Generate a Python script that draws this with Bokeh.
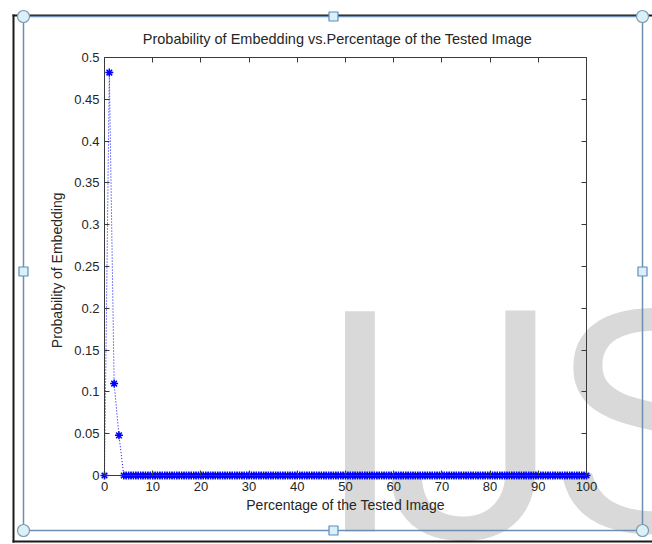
from bokeh.plotting import figure
from bokeh.models import LinearAxis, FixedTicker, Range1d
from bokeh.core.properties import value
from bokeh.embed import file_html
from bokeh.resources import INLINE

# ---- data ----
head_x = [0, 1, 2, 3]
head_y = [0.0, 0.482, 0.11, 0.048]
tail_x = [v / 2 for v in range(8, 201)]          # 4, 4.5, ..., 100
tail_y = [0.0] * len(tail_x)
x_vals = head_x + tail_x
y_vals = head_y + tail_y

x_ticks = [0, 10, 20, 30, 40, 50, 60, 70, 80, 90, 100]
x_tick_labels = ["0", "10", "20", "30", "40", "50", "60", "70", "80", "90", "100"]
y_ticks = [0, 0.05, 0.1, 0.15, 0.2, 0.25, 0.3, 0.35, 0.4, 0.45, 0.5]
y_tick_labels = ["0", "0.05", "0.1", "0.15", "0.2", "0.25", "0.3", "0.35", "0.4", "0.45", "0.5"]

title_text = "Probability  of  Embedding  vs.Percentage  of the Tested Image"
x_label = "Percentage of the Tested Image"
y_label = "Probability  of  Embedding"

# ---- layout of the page (pixels) ----
W, H = 652, 544
AX_L, AX_R, AX_T, AX_B = 104, 586, 57, 475          # axes box on the page
X0, X1, Y0, Y1 = 0, 100, 0, 0.5
sx = (AX_R - AX_L) / (X1 - X0)
sy = (AX_B - AX_T) / (Y1 - Y0)

FONT = "Liberation Sans"
TXT = "#262626"
AXC = "#3a3a3a"

p = figure(width=W, height=H, output_backend="svg", toolbar_location=None,
           x_range=Range1d(X0 - AX_L / sx, X1 + (W - AX_R) / sx),
           y_range=Range1d(Y0 - (H - AX_B) / sy, Y1 + AX_T / sy),
           x_axis_location=None, y_axis_location=None,
           min_border=0)
p.extra_x_ranges = {"px": Range1d(0, W)}
p.extra_y_ranges = {"py": Range1d(H, 0)}
p.background_fill_color = "white"
p.border_fill_color = "white"
p.outline_line_color = None
p.grid.visible = False


def style_axis(ax, ticks, labels):
    ax.ticker = FixedTicker(ticks=ticks)
    ax.major_tick_in = 5
    ax.major_tick_out = 0
    ax.minor_tick_in = 0
    ax.minor_tick_out = 0
    ax.axis_line_color = AXC
    ax.major_tick_line_color = AXC
    ax.major_label_text_font = FONT
    ax.major_label_text_font_size = "13px"
    ax.major_label_text_color = TXT
    ax.axis_label_text_font = FONT
    ax.axis_label_text_font_size = "14px"
    ax.axis_label_text_font_style = "normal"
    ax.axis_label_text_color = TXT
    ax.major_label_overrides = dict(zip(ticks, labels))


xa = LinearAxis(axis_label=x_label, fixed_location=Y0, bounds=(X0, X1))
style_axis(xa, x_ticks, x_tick_labels)
xa.major_label_standoff = 6
xa.axis_label_standoff = 3
p.add_layout(xa, "below")

ya = LinearAxis(axis_label=y_label, fixed_location=X0, bounds=(Y0, Y1))
style_axis(ya, y_ticks, y_tick_labels)
ya.major_label_standoff = 5
ya.axis_label_standoff = 6
p.add_layout(ya, "left")

xt = LinearAxis(axis_label=title_text, fixed_location=Y1, bounds=(X0, X1))
style_axis(xt, x_ticks, [""] * len(x_ticks))
xt.major_label_standoff = 0
xt.axis_label_standoff = 11
xt.axis_label_text_font_size = "14.5px"
p.add_layout(xt, "above")

yr = LinearAxis(fixed_location=X1, bounds=(Y0, Y1))
style_axis(yr, y_ticks, [""] * len(y_ticks))
yr.major_label_standoff = 0
p.add_layout(yr, "right")

# ---- watermark (behind the data and axes) ----
WM = "#d9d9d9"
p.text(x=[315, 548], y=[420, 420], text=["I", "S"],
       x_range_name="px", y_range_name="py",
       text_font=value(FONT), text_font_size="320px", text_color=WM,
       text_baseline="alphabetic", text_align="left", level="underlay")
p.text(x=[383], y=[428], text=["J"],
       x_range_name="px", y_range_name="py",
       text_font=value("Roboto"), text_font_size="320px", text_color=WM,
       text_baseline="alphabetic", text_align="left", level="underlay")

# ---- data ----
p.line(x_vals, y_vals, line_color="#0000ff", line_dash="1 2", line_width=1)
p.scatter(x_vals, y_vals, marker="asterisk", size=8, line_color="#0000ff", line_width=1.5)

# ---- page frame & selection handles ----
BLK = "#1a1a1a"
p.segment(x0=[13, 12, 12], y0=[14, 15, 541], x1=[13, 652, 652], y1=[542, 15, 541],
          x_range_name="px", y_range_name="py", line_color=BLK, line_width=2)
SEL = "#6d8fb3"
p.segment(x0=[23, 642, 23, 23], y0=[16, 16, 16, 530], x1=[23, 642, 642, 642], y1=[530, 530, 16, 530],
          x_range_name="px", y_range_name="py", line_color=SEL, line_width=1.5)
HF = "#dcf1f7"
p.scatter(x=[23, 642, 23, 642], y=[16, 16, 530, 530], marker="circle", size=12,
          x_range_name="px", y_range_name="py", fill_color=HF, line_color="#7d9ab3", line_width=1.2)
p.scatter(x=[333, 23, 642, 333], y=[16, 271, 271, 530], marker="square", size=9,
          x_range_name="px", y_range_name="py", fill_color=HF, line_color="#5a8cc0", line_width=1.2)

open("out.html", "w").write(file_html(p, INLINE))
